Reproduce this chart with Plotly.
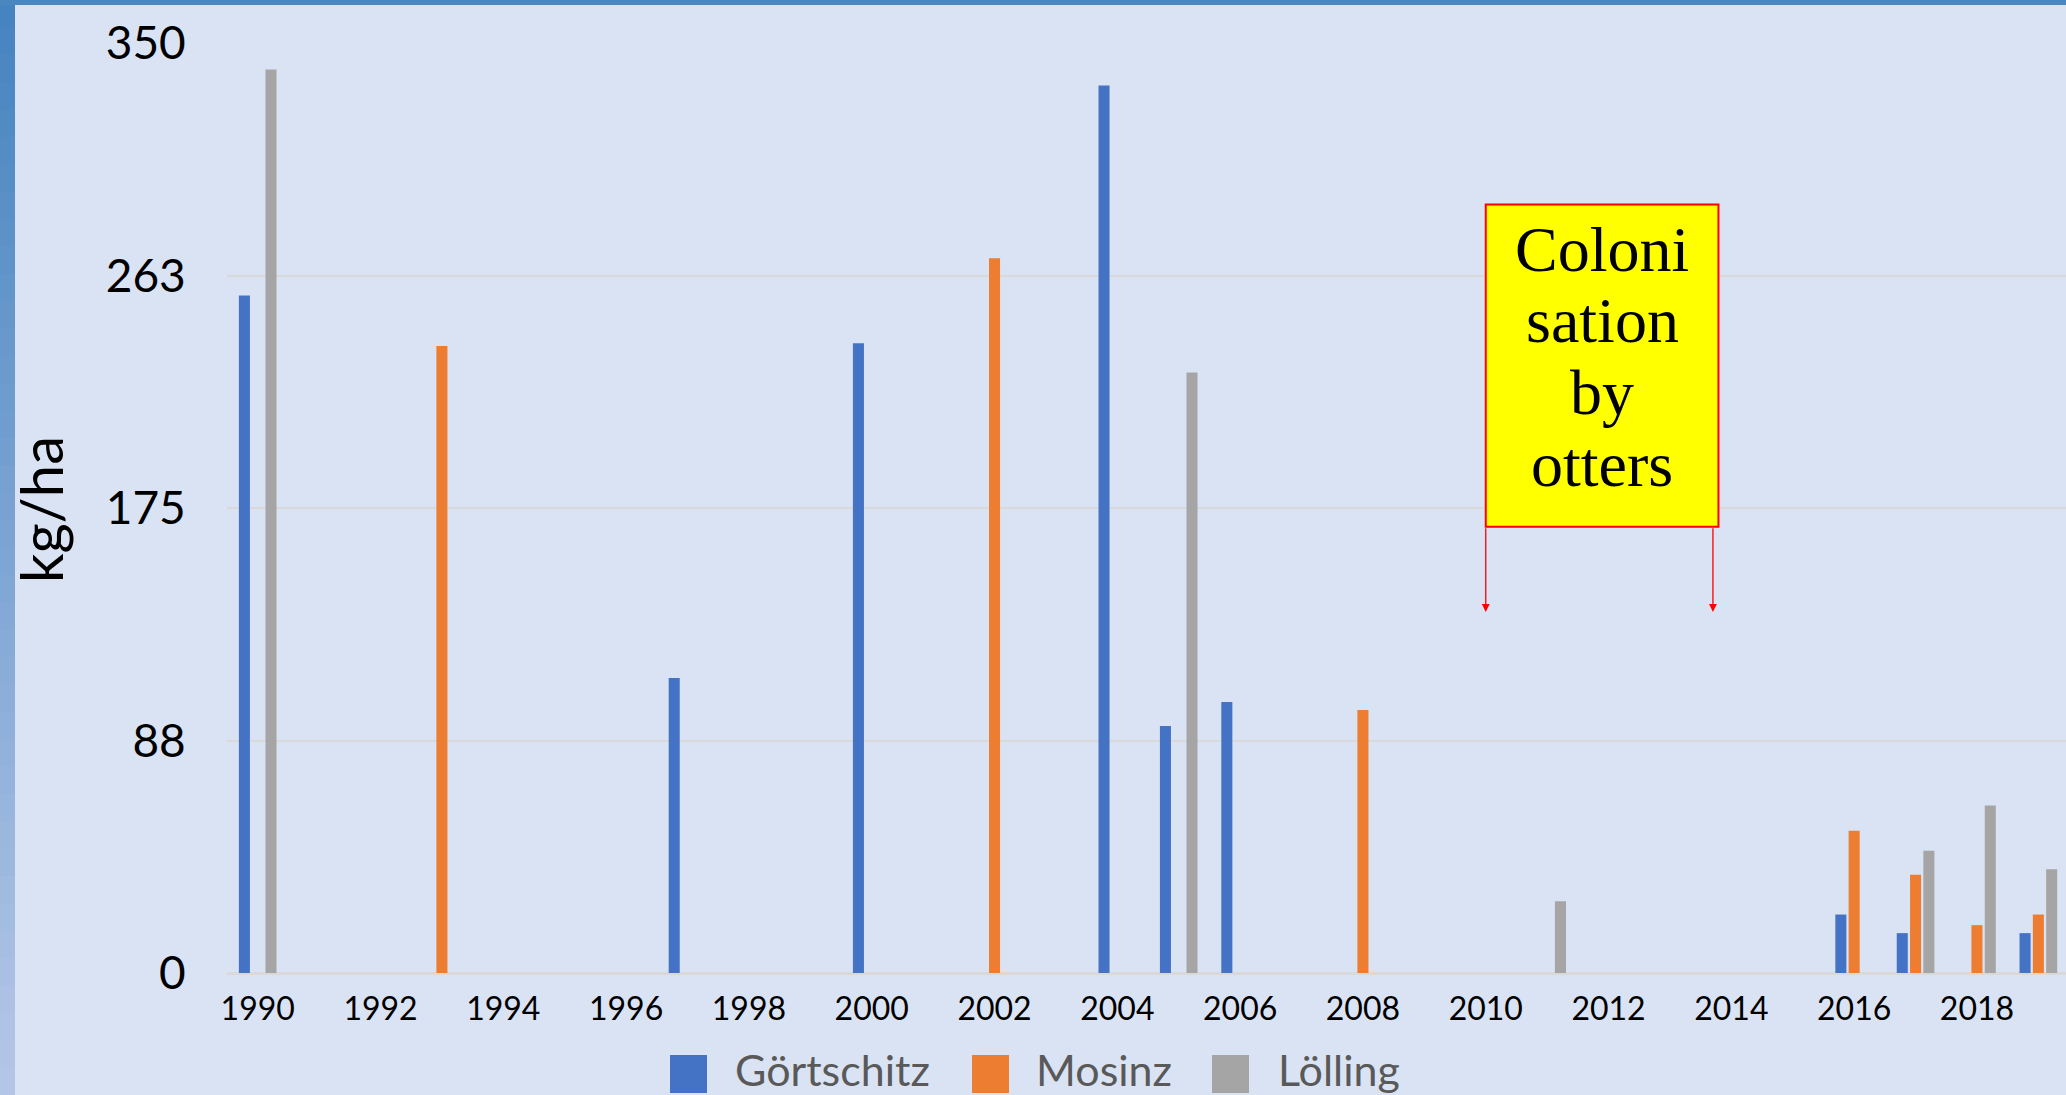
import plotly.graph_objects as go

# Fish biomass (kg/ha) per river and year
series_names = ["Görtschitz", "Mosinz", "Lölling"]
series_colors = ["#4472C4", "#ED7D31", "#A5A5A5"]

goertschitz_years = [1990, 1997, 2000, 2004, 2005, 2006, 2016, 2017, 2019]
goertschitz_vals = [255, 111, 237, 334, 93, 102, 22, 15, 15]

mosinz_years = [1993, 2002, 2008, 2016, 2017, 2018, 2019]
mosinz_vals = [236, 269, 99, 53.5, 37, 18, 22]

loelling_years = [1990, 2005, 2011, 2017, 2018, 2019]
loelling_vals = [340, 226, 27, 46, 63, 39]

x_tick_years = list(range(1990, 2019, 2))
y_tick_vals = [0, 87.5, 175, 262.5, 350]
y_tick_text = ["0", "88", "175", "263", "350"]

box_lines = ["Coloni", "sation", "by", "otters"]
box_line_y = [272.2, 245.5, 218.4, 191.3]
arrow_years = [2010, 2013.7]

# Layout geometry (pixels)
W, H = 2066, 1095
ML, MR, MT, MB = 227, 0, 43, 122
PW, PH = W - ML - MR, H - MT - MB
BG = "#DAE3F3"
FONT = "Lato"


def px_x(p):
    return (p - ML) / PW


def px_y(p):
    return (H - MB - p) / PH


fig = go.Figure()
for name, color, xs, ys in zip(
    series_names,
    series_colors,
    [goertschitz_years, mosinz_years, loelling_years],
    [goertschitz_vals, mosinz_vals, loelling_vals],
):
    fig.add_trace(go.Bar(x=xs, y=ys, name=name, marker_color=color,
                         marker_line_width=0, showlegend=False))

shapes = []
# Gradient strip on the left edge and band along the top
n_bands = 40
c0, c1 = (70, 132, 192), (180, 198, 231)
for i in range(n_bands):
    t = i / (n_bands - 1)
    col = "rgb(%d,%d,%d)" % tuple(round(a + (b - a) * t) for a, b in zip(c0, c1))
    shapes.append(dict(type="rect", xref="paper", yref="paper",
                       x0=px_x(0), x1=px_x(15),
                       y0=px_y(H * i / n_bands), y1=px_y(H * (i + 1) / n_bands + 1),
                       fillcolor=col, line_width=0, layer="below"))
shapes.append(dict(type="rect", xref="paper", yref="paper",
                   x0=px_x(0), x1=px_x(W), y0=px_y(0), y1=px_y(5),
                   fillcolor="#4A86C0", line_width=0, layer="above"))

# Annotation box
shapes.append(dict(type="rect", xref="x", yref="y",
                   x0=arrow_years[0], x1=2013.79, y0=167.9, y1=289.2,
                   fillcolor="#FFFF00", line=dict(color="#FF0000", width=2),
                   layer="above"))

# Legend swatches
legend_x = [670, 972, 1212]
legend_text_x = [733, 1034, 1276]
for color, x0 in zip(series_colors, legend_x):
    shapes.append(dict(type="rect", xref="paper", yref="paper",
                       x0=px_x(x0), x1=px_x(x0 + 37), y0=px_y(1093), y1=px_y(1055),
                       fillcolor=color, line_width=0))

annotations = []
for name, x0 in zip(series_names, legend_text_x):
    annotations.append(dict(xref="paper", yref="paper", x=px_x(x0), y=px_y(1069),
                            xanchor="left", yanchor="middle", text=name,
                            showarrow=False,
                            font=dict(family=FONT, size=43, color="#595959")))

annotations.append(dict(xref="paper", yref="paper", x=px_x(40), y=px_y(510),
                        xanchor="center", yanchor="middle", text="kg/ha",
                        textangle=-90, showarrow=False,
                        font=dict(family=FONT, size=58, color="#000000")))

for line, yv in zip(box_lines, box_line_y):
    annotations.append(dict(xref="x", yref="y", x=(arrow_years[0] + 2013.79) / 2, y=yv,
                            xanchor="center", yanchor="middle", text=line,
                            showarrow=False,
                            font=dict(family="Liberation Serif", size=64, color="#000000")))

for xa in arrow_years:
    annotations.append(dict(xref="x", yref="y", x=xa, y=135.9,
                            axref="x", ayref="y", ax=xa, ay=167.9, text="",
                            showarrow=True, arrowhead=2, arrowsize=1.2,
                            arrowwidth=1.3, arrowcolor="#FF0000", standoff=0))

fig.update_layout(
    width=W, height=H,
    margin=dict(l=ML, r=MR, t=MT, b=MB, pad=0),
    paper_bgcolor=BG, plot_bgcolor=BG,
    barmode="group", bargap=0.35, bargroupgap=0.17,
    showlegend=False,
    shapes=shapes, annotations=annotations,
    hovermode=False,
)
fig.update_xaxes(
    range=[1989.5, 2019.45], tickmode="array", tickvals=x_tick_years,
    ticktext=[str(y) for y in x_tick_years],
    showgrid=False, zeroline=False, showline=False,
    ticks="outside", ticklen=8, tickcolor="rgba(0,0,0,0)",
    tickfont=dict(family=FONT, size=32, color="#000000"),
)
fig.update_yaxes(
    range=[0, 350], tickmode="array", tickvals=y_tick_vals, ticktext=y_tick_text,
    showgrid=True, gridcolor="#D9D9D9", gridwidth=2,
    zeroline=True, zerolinecolor="#D9D9D9", zerolinewidth=3, showline=False,
    ticks="outside", ticklen=31, tickcolor="rgba(0,0,0,0)",
    tickfont=dict(family=FONT, size=46, color="#000000"),
)

fig.write_html("out.html")
